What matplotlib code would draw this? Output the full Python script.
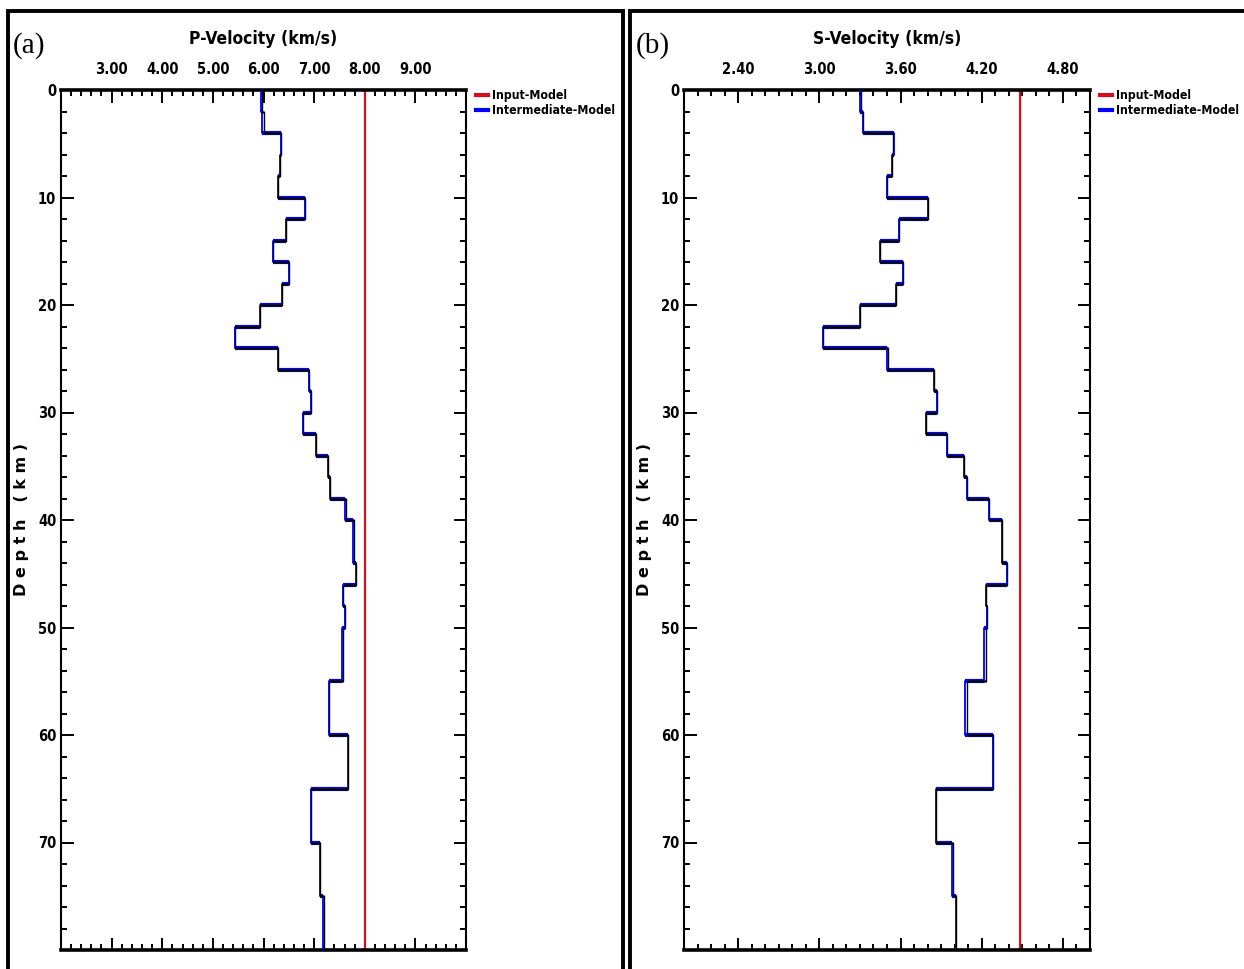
import numpy as np
import matplotlib
matplotlib.use("Agg")
import matplotlib.pyplot as plt
from matplotlib.ticker import MultipleLocator, FormatStrFormatter, FixedLocator
from matplotlib.patches import Rectangle
from matplotlib.font_manager import FontProperties

# layer tops (km) and bottom of model
layer_top = [0, 2, 4, 6, 8, 10, 12, 14, 16, 18, 20, 22, 24, 26, 28, 30, 32, 34, 36, 38,
             40, 44, 46, 48, 50, 55, 60, 65, 70, 75]
max_depth = 80

# P-velocity (km/s)
vp_intermediate = [5.95, 5.98, 6.35, 6.32, 6.29, 6.81, 6.44, 6.19, 6.50, 6.37, 5.93, 5.44,
                   6.29, 6.89, 6.94, 6.79, 7.04, 7.28, 7.31, 7.60, 7.77, 7.83, 7.58, 7.61,
                   7.55, 7.30, 7.67, 6.93, 7.12, 7.18]
vp_final = [5.97, 6.00, 6.35, 6.32, 6.29, 6.81, 6.44, 6.19, 6.50, 6.37, 5.93, 5.44,
            6.29, 6.89, 6.94, 6.79, 7.04, 7.28, 7.31, 7.62, 7.79, 7.83, 7.58, 7.61,
            7.58, 7.30, 7.67, 6.93, 7.12, 7.20]
vp_input = 8.00

# S-velocity (km/s)
vs_intermediate = [3.30, 3.32, 3.55, 3.535, 3.50, 3.80, 3.59, 3.45, 3.62, 3.565, 3.30, 3.025,
                   3.50, 3.85, 3.87, 3.79, 3.94, 4.07, 4.09, 4.25, 4.35, 4.39, 4.23, 4.24,
                   4.22, 4.08, 4.28, 3.86, 3.98, 4.01]
vs_final = [3.31, 3.32, 3.545, 3.535, 3.50, 3.80, 3.59, 3.45, 3.62, 3.565, 3.30, 3.025,
            3.51, 3.85, 3.87, 3.79, 3.94, 4.07, 4.09, 4.25, 4.35, 4.39, 4.23, 4.24,
            4.23, 4.09, 4.28, 3.86, 3.99, 4.01]
vs_input = 4.48

vp_ticks = [3, 4, 5, 6, 7, 8, 9]
vs_ticks = [2.4, 3.0, 3.6, 4.2, 4.8]

narrow = dict(family="DejaVu Sans", stretch="condensed", weight="bold")


def step(vals):
    d = []
    v = []
    tops = layer_top + [max_depth]
    for i, val in enumerate(vals):
        d += [tops[i], tops[i + 1]]
        v += [val, val]
    return v, d


def panel(ax, inter, final, inp, xlim, ticks, minor, title, tag):
    vi, di = step(inter)
    vf, df = step(final)
    ax.plot([inp, inp], [0, max_depth], color="#d01020", lw=1.6, label="Input-Model", zorder=2)
    ax.plot(vi, di, color="#0000ff", lw=1.3, label="Intermediate-Model", zorder=3)
    # interfaces look heavier in the original
    ax.hlines(layer_top[1:], inter[:-1], inter[1:], color="#0000ff", lw=3.0, zorder=3)
    ax.hlines(layer_top[1:], final[:-1], final[1:], color="#101030", lw=1.8, zorder=4)
    ax.plot(vf, df, color="black", lw=1.0, zorder=4)

    ax.set_xlim(*xlim)
    ax.set_ylim(max_depth, 0)
    ax.xaxis.set_major_locator(FixedLocator(ticks))
    ax.xaxis.set_minor_locator(MultipleLocator(minor))
    ax.xaxis.set_major_formatter(FormatStrFormatter("%.2f"))
    ax.yaxis.set_minor_locator(MultipleLocator(2))
    ax.set_yticks(range(0, 80, 10))
    ax.xaxis.tick_top()
    ax.tick_params(which="both", direction="in", top=True, bottom=True, left=True, right=True,
                   labeltop=True, labelbottom=False, width=1.4)
    ax.tick_params(axis="x", which="major", pad=9)
    ax.tick_params(which="major", length=9)
    ax.tick_params(which="minor", length=4.5)
    for lab in ax.get_xticklabels() + ax.get_yticklabels():
        lab.set_fontproperties(FontProperties(size=10.5, **narrow))
    for s in ax.spines.values():
        s.set_linewidth(2.6)
    ax.spines["left"].set_linewidth(1.5)
    ax.spines["right"].set_linewidth(1.5)
    ax.set_title(title, fontsize=12.5, pad=33, **narrow)
    ax.set_ylabel("D e p t h   ( k m )", fontweight="bold", fontsize=11.5, labelpad=6)
    leg = ax.legend(loc="upper left", bbox_to_anchor=(1.0, 1.012), frameon=False,
                    handlelength=1.0, handletextpad=0.35, borderaxespad=0.4, labelspacing=0.15,
                    prop=FontProperties(size=8.8, **narrow))
    for h in leg.get_lines():
        h.set_linewidth(3)
    fig.text(ax.get_position().x0 - 0.039, 0.953, tag, family="Liberation Serif", fontsize=21,
             ha="left", va="center")


fig = plt.figure(figsize=(12.44, 9.69), dpi=100)
ax1 = fig.add_axes([61 / 1244, 19 / 969, 405 / 1244, 860 / 969])
ax2 = fig.add_axes([684 / 1244, 19 / 969, 406 / 1244, 860 / 969])

panel(ax1, vp_intermediate, vp_final, vp_input, (2, 10), vp_ticks, 0.2, "P-Velocity (km/s)", "(a)")
panel(ax2, vs_intermediate, vs_final, vs_input, (2, 5), vs_ticks, 0.1, "S-Velocity (km/s)", "(b)")

# outer frames around each panel
fig.patches.append(Rectangle((8 / 1244, -0.01), 615 / 1244, 0.999, transform=fig.transFigure,
                             fill=False, lw=2.8, ec="black"))
fig.patches.append(Rectangle((630 / 1244, -0.01), 620 / 1244, 0.999, transform=fig.transFigure,
                             fill=False, lw=2.8, ec="black"))

fig.savefig("out.png", dpi=100)
